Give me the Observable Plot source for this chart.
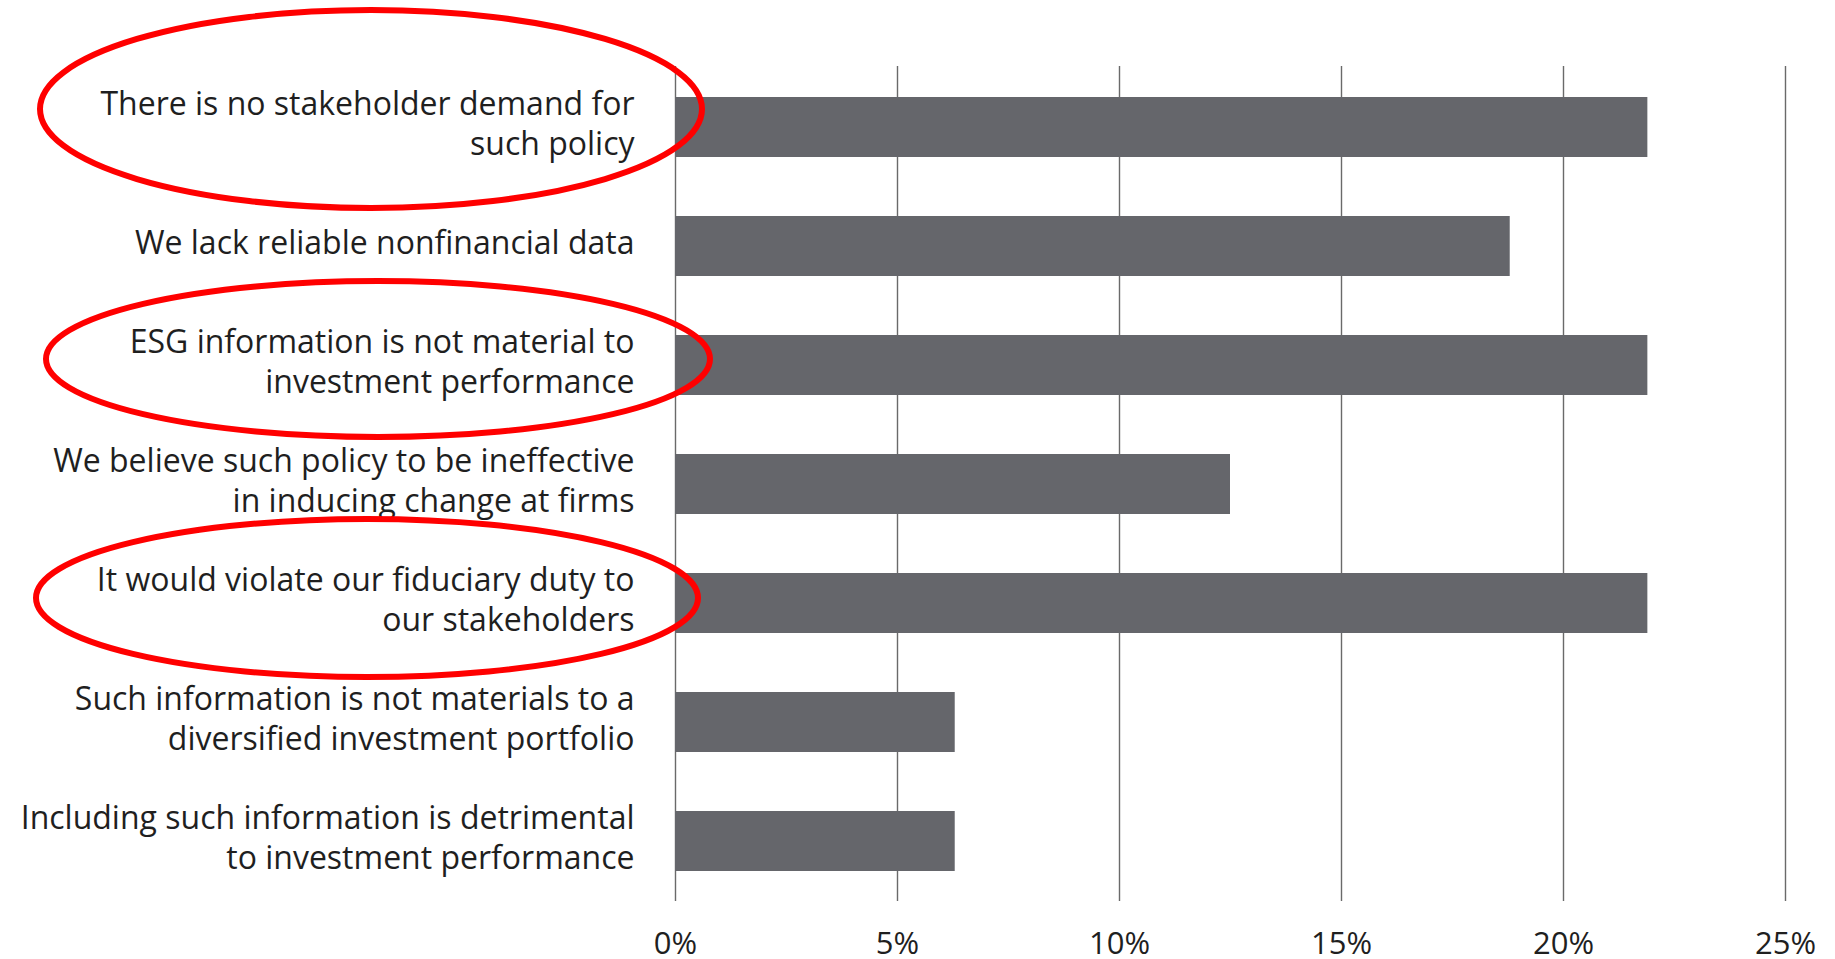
<!DOCTYPE html>
<html><head><meta charset="utf-8">
<script src="https://cdn.jsdelivr.net/npm/d3@7"></script>
<script src="https://cdn.jsdelivr.net/npm/@observablehq/plot@0.6"></script>
<style>body{margin:0;background:#fff;}</style>
</head><body><div id="chart"></div>
<script>
const categories = [
  "There is no stakeholder demand for such policy",
  "We lack reliable nonfinancial data",
  "ESG information is not material to investment performance",
  "We believe such policy to be ineffective in inducing change at firms",
  "It would violate our fiduciary duty to our stakeholders",
  "Such information is not materials to a diversified investment portfolio",
  "Including such information is detrimental to investment performance"
];
const labels = [
  "There is no stakeholder demand for\nsuch policy",
  "We lack reliable nonfinancial data",
  "ESG information is not material to\ninvestment performance",
  "We believe such policy to be ineffective\nin inducing change at firms",
  "It would violate our fiduciary duty to\nour stakeholders",
  "Such information is not materials to a\ndiversified investment portfolio",
  "Including such information is detrimental\nto investment performance"
];
const values = [21.9, 18.8, 21.9, 12.5, 21.9, 6.3, 6.3];
const xTicks = [0, 5, 10, 15, 20, 25];
const xTickLabels = ["0%", "5%", "10%", "15%", "20%", "25%"];
const highlighted = [categories[0], categories[2], categories[4]];

const data = categories.map((c, i) => ({category: c, value: values[i]}));

const plot = Plot.plot({
  width: 1835, height: 959,
  marginLeft: 675, marginRight: 50, marginTop: 66, marginBottom: 58,
  style: {fontFamily: "'Open Sans'", fontSize: "30px", color: "#1f1f1f", background: "#fff", overflow: "visible"},
  x: {domain: [0, 25], label: null},
  y: {domain: categories, paddingInner: 0.5, paddingOuter: 0.24, label: null},
  marks: [
    Plot.gridX(xTicks, {stroke: "#6a6a6a", strokeOpacity: 1, strokeWidth: 1.4}),
    Plot.barX(data, {x: "value", y: "category", fill: "#65666b"}),
    Plot.axisX({ticks: xTicks, tickFormat: d => xTickLabels[xTicks.indexOf(d)], tickSize: 0, tickPadding: 30, fontSize: 31, label: null}),
    Plot.axisY({tickSize: 0, tickPadding: 41, tickFormat: c => labels[categories.indexOf(c)], fontSize: 32, lineHeight: 1.22, dy: -5, label: null})
  ]
});
document.getElementById("chart").appendChild(plot);

// red annotation ellipses around highlighted labels
const ys = plot.scale("y");
const ellipseSpecs = [
  {dx: -304, dy: -18, rx: 331, ry: 99},
  {dx: -297, dy: -6, rx: 332, ry: 78},
  {dx: -308, dy: -5, rx: 331, ry: 79}
];
const svg = d3.select(plot);
highlighted.forEach((cat, i) => {
  const s = ellipseSpecs[i];
  const cy = ys.apply(cat) + ys.bandwidth / 2;
  svg.append("ellipse")
    .attr("cx", 675 + s.dx).attr("cy", cy + s.dy)
    .attr("rx", s.rx).attr("ry", s.ry)
    .attr("fill", "none").attr("stroke", "#ff0000").attr("stroke-width", 6);
});
</script>
</body></html>
